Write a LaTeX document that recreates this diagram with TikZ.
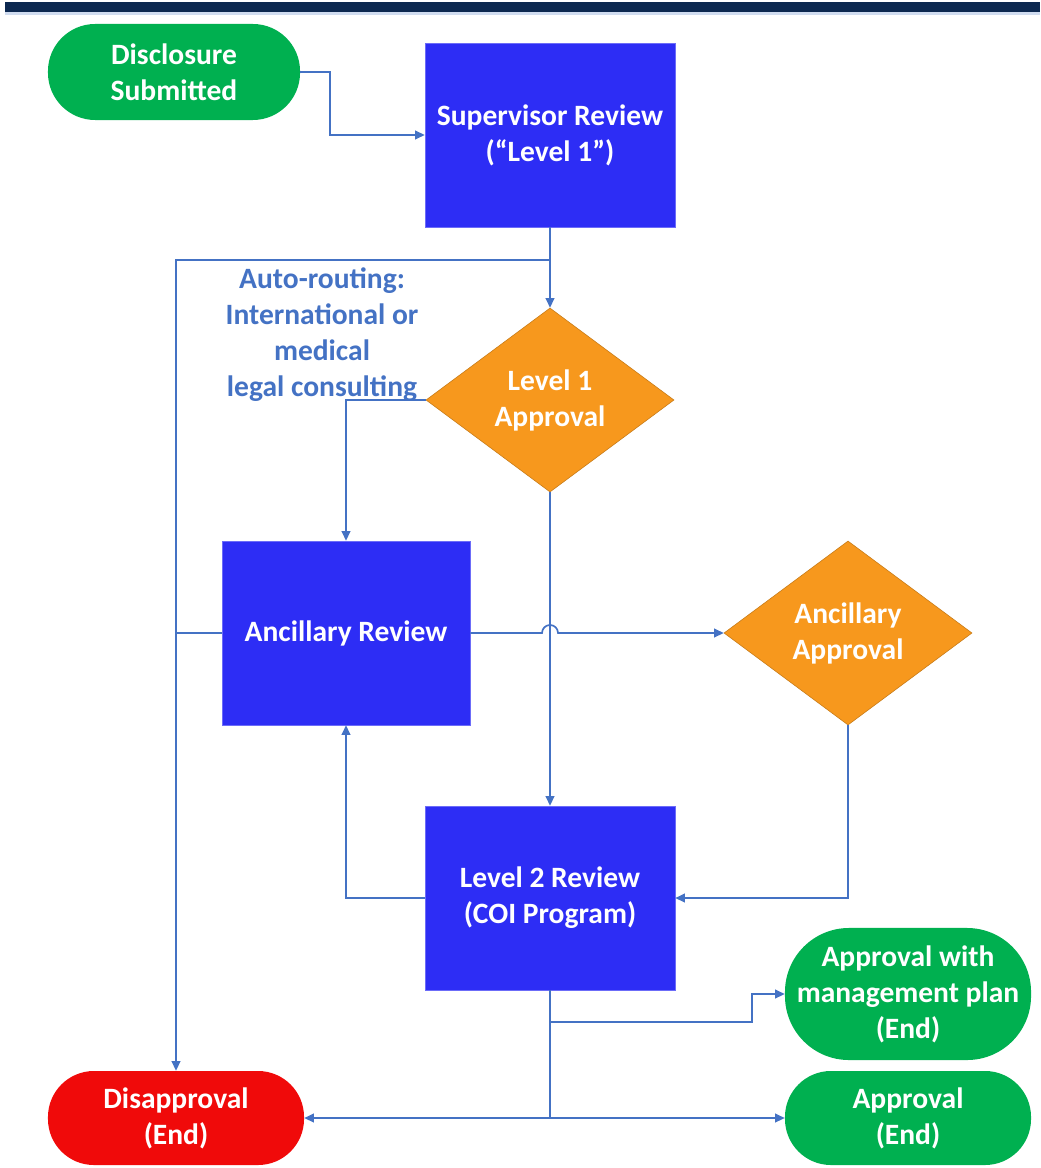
\documentclass[tikz,border=0pt]{standalone}
\usepackage{fontspec}
\setmainfont{Carlito}
\usepackage{xcolor}
\usepackage{tikz}
\usetikzlibrary{
  positioning,
  calc,
  arrows.meta,
  shapes.geometric
}
\definecolor{barnavy}{RGB}{12,40,80}
\definecolor{revblue}{RGB}{45,45,245}
\definecolor{okgreen}{RGB}{0,176,80}
\definecolor{decorange}{RGB}{247,152,29}
\definecolor{badred}{RGB}{240,10,10}
\definecolor{linkblue}{RGB}{68,114,196}

\begin{document}
\begin{tikzpicture}[
      x=0.025cm, y=-0.025cm,
      review/.style={rectangle, draw=revblue!70!white, fill=revblue, text=white, minimum width=6.25cm, minimum height=4.6cm, align=center, font=\fontsize{21}{25.6}\selectfont\bfseries},
      decision/.style={diamond, draw=decorange!80!black, fill=decorange, text=white, inner sep=0pt, minimum width=6.2cm, minimum height=4.6cm, align=center, font=\fontsize{21}{25.6}\selectfont\bfseries},
      terminal/.style={rectangle, rounded corners=1.15cm, fill=okgreen, text=white, inner sep=0pt, minimum width=6.2cm, minimum height=2.35cm, align=center, font=\fontsize{21}{25.6}\selectfont\bfseries},
      arrow/.style={-{Triangle[length=0.24cm, width=0.22cm]}, draw=linkblue, line width=1.2pt},
      link/.style={draw=linkblue, line width=1.2pt}
    ]
      \useasboundingbox (0,0) rectangle (1040,1168);

      % Title bar
      \fill[barnavy] (5,2) rectangle (1040,12);
      \fill[linkblue!25] (5,12) rectangle (1040,15);

      % Start
      \node[terminal, minimum width=6.3cm, minimum height=2.4cm, rounded corners=1.18cm] (disc) at (174,72) {Disclosure\\Submitted};

      % Reviews
      \node[review] (sup) at (550,135) {Supervisor Review\\(“Level 1”)};
      \node[review, minimum width=6.2cm] (arev) at (346,633) {Ancillary Review};
      \node[review] (lvl2) at (550,898) {Level 2 Review\\(COI Program)};

      % Decisions
      \node[decision] (lvl1) at (550,400) {Level 1\\Approval};
      \node[decision] (aapp) at (848,633) {Ancillary\\Approval};

      % Ends
      \node[terminal, minimum width=6.15cm, minimum height=3.3cm, rounded corners=1.6cm] (amp) at (908,994) {Approval with\\management plan\\(End)};
      \node[terminal, minimum width=6.15cm] (appr) at (908,1118) {Approval\\(End)};
      \node[terminal, fill=badred, minimum width=6.4cm] (disap) at (176,1118) {Disapproval\\(End)};

      % Auto-routing note
      \node[text=linkblue, align=center, font=\fontsize{21}{25.6}\selectfont\bfseries] (note) at (322,335)
        {Auto-routing:\\International or\\medical\\legal consulting};

      % Split points
      \coordinate (split1) at (550,260);
      \coordinate (split2) at (550,1022);
      \coordinate (split3) at (550,1118);
      \coordinate (bend) at (752,1022);

      % Arrows
      \draw[arrow] (disc.east) -- ++(30,0) |- (sup.west);
      \draw[arrow] (sup.south) -- (lvl1.north);
      \draw[arrow] (split1) -| (disap.north);
      \draw[arrow] (lvl1.west) -| (arev.north);
      \draw[arrow] (lvl1.south) -- (lvl2.north);
      \draw[arrow] (arev.east) -- (542,633) arc[start angle=180, end angle=0, radius=0.2cm] -- (aapp.west);
      \draw[link] (arev.west) -- (arev.west -| disap.north);
      \draw[arrow] (aapp.south) |- (lvl2.east);
      \draw[arrow] (lvl2.west) -| (arev.south);
      \draw[link] (lvl2.south) -- (split3);
      \draw[arrow] (split2) -- (bend) |- (amp.west);
      \draw[arrow] (split3) -- (appr.west);
      \draw[arrow] (split3) -- (disap.east);
    \end{tikzpicture}
\end{document}
